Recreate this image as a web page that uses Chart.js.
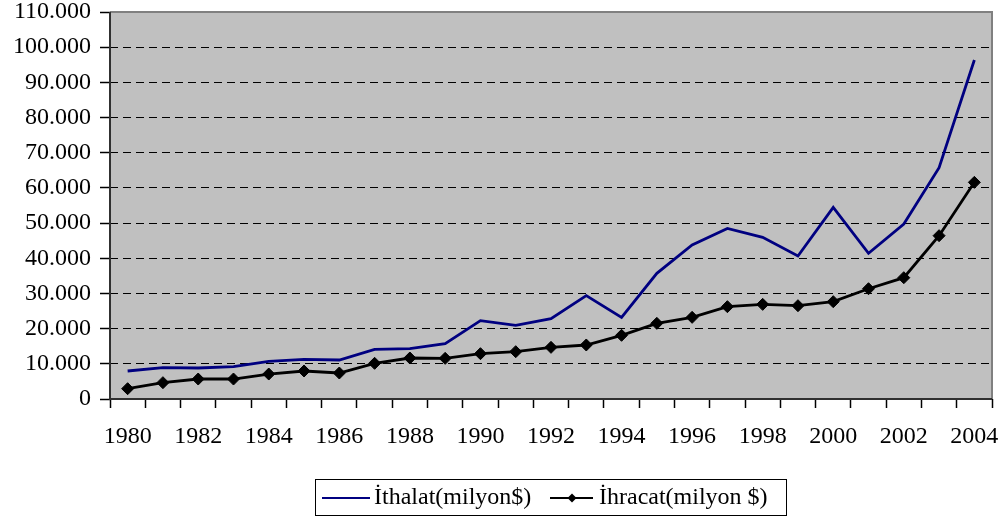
<!DOCTYPE html>
<html><head><meta charset="utf-8">
<script src="https://cdn.jsdelivr.net/npm/chart.js@4/dist/chart.umd.min.js"></script>
<style>html,body{margin:0;padding:0;background:#fff}#wrap{width:1006px;height:520px}</style>
</head><body><div id="wrap"><canvas id="c" width="1006" height="520"></canvas></div>
<script>
const years = ['1980','1981','1982','1983','1984','1985','1986','1987','1988','1989','1990','1991','1992','1993','1994','1995','1996','1997','1998','1999','2000','2001','2002','2003','2004'];
const ithalatLabel = 'İthalat(milyon$)';
const ihracatLabel = 'İhracat(milyon $)';
const ithalat = [7960,8900,8810,9190,10700,11280,11080,14120,14300,15730,22260,20940,22830,29370,23210,35720,43770,48500,45950,40640,54480,41400,49740,65740,96350];
const ihracat = [2930,4640,5680,5680,7100,7960,7390,10140,11650,11560,12880,13450,14680,15350,18100,21500,23210,26240,26900,26520,27660,31350,34480,46420,61580];
const yMin = 0, yMax = 110000, yStep = 10000;

const FONT = '"Liberation Serif", "Times New Roman", serif';
function fmt(v){ return String(v).replace(/\B(?=(\d{3})+(?!\d))/g, '.'); }

const bgPlugin = {
  id:'bg',
  beforeDraw(chart){
    const {ctx, chartArea:a} = chart;
    ctx.save(); ctx.fillStyle = '#C0C0C0';
    ctx.fillRect(a.left, a.top, a.right-a.left, a.bottom-a.top); ctx.restore();
  },
  afterDatasetsDraw(chart){
    const {ctx, chartArea:a} = chart;
    ctx.save();
    ctx.lineWidth = 2; ctx.strokeStyle = '#808080';
    ctx.beginPath(); ctx.moveTo(a.left, a.top); ctx.lineTo(a.right, a.top); ctx.lineTo(a.right, a.bottom); ctx.stroke();
    ctx.strokeStyle = '#303030';
    ctx.beginPath(); ctx.moveTo(a.left, a.top); ctx.lineTo(a.left, a.bottom); ctx.lineTo(a.right, a.bottom); ctx.stroke();
    ctx.restore();
  }
};

const legendPlugin = {
  id:'customLegend',
  afterDraw(chart){
    const {ctx} = chart;
    const ds = chart.data.datasets;
    ctx.save();
    ctx.strokeStyle = '#000'; ctx.lineWidth = 1;
    ctx.strokeRect(315.5, 479.5, 471, 36);
    const y = 498;
    ctx.font = '24px ' + FONT; ctx.textBaseline = 'middle'; ctx.fillStyle = '#000';
    ctx.strokeStyle = ds[0].borderColor; ctx.lineWidth = 2;
    ctx.beginPath(); ctx.moveTo(322, y); ctx.lineTo(370, y); ctx.stroke();
    ctx.fillText(ds[0].label, 374, y);
    ctx.strokeStyle = ds[1].borderColor; ctx.lineWidth = 2;
    ctx.beginPath(); ctx.moveTo(550, y); ctx.lineTo(593, y); ctx.stroke();
    ctx.fillStyle = '#000';
    ctx.beginPath(); ctx.moveTo(572-4.5, y); ctx.lineTo(572, y-4.5); ctx.lineTo(572+4.5, y); ctx.lineTo(572, y+4.5); ctx.closePath(); ctx.fill();
    ctx.fillText(ds[1].label, 599, y);
    ctx.restore();
  }
};

new Chart(document.getElementById('c').getContext('2d'), {
  type:'line',
  data:{
    labels: years,
    datasets:[
      {label: ithalatLabel, data: ithalat, borderColor:'#000080', backgroundColor:'#000080', borderWidth:2.8, pointRadius:0, tension:0, fill:false},
      {label: ihracatLabel, data: ihracat, borderColor:'#000000', backgroundColor:'#000000', borderWidth:2.8, pointStyle:'rectRot', pointRadius:6, pointBackgroundColor:'#000', pointBorderColor:'#000', pointBorderWidth:1, tension:0, fill:false}
    ]
  },
  options:{
    responsive:false, animation:false, devicePixelRatio:1,
    layout:{padding:{left:0, right:14, top:12, bottom:61}},
    plugins:{legend:{display:false}, tooltip:{enabled:false}},
    scales:{
      x:{
        offset:true,
        grid:{offset:true, drawOnChartArea:false, drawTicks:true, tickLength:9, tickColor:'#000', tickWidth:1.5},
        border:{display:false},
        ticks:{autoSkip:false, maxRotation:0, minRotation:0, color:'#000', font:{family:FONT, size:24}, padding:14,
          callback:(v,i)=> i%2===0 ? years[i] : ''},
        afterFit:s=>{ s.height = 60; s.paddingLeft = 0; s.paddingRight = 0; }
      },
      y:{
        min:yMin, max:yMax,
        ticks:{stepSize:yStep, color:'#000', font:{family:FONT, size:24}, padding:9, callback:v=>fmt(v)},
        grid:{color:c=> (c.tick && (c.tick.value===yMin || c.tick.value===yMax)) ? 'rgba(0,0,0,0)' : '#000', lineWidth:1, tickColor:'#000', tickLength:10, tickWidth:1.5, drawTicks:true},
        border:{display:false, dash:[8,5]},
        afterFit:s=>{ s.width = 110; s.paddingTop = 0; s.paddingBottom = 0; }
      }
    }
  },
  plugins:[bgPlugin, legendPlugin]
});
</script></body></html>
